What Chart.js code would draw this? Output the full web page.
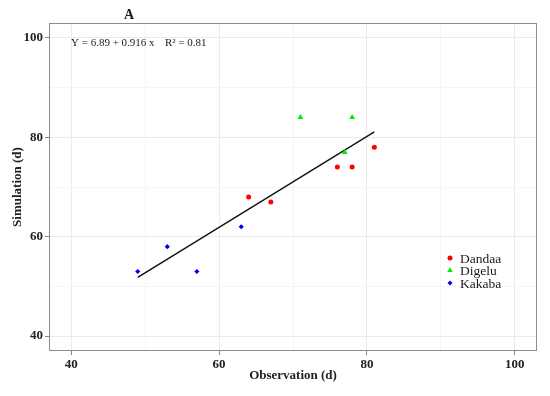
<!DOCTYPE html>
<html lang="en">
<head>
  <meta charset="UTF-8">
  <title>Observation vs Simulation</title>
  <script src="https://cdn.jsdelivr.net/npm/chart.js"></script>
  <style>
    html, body { margin: 0; padding: 0; background: #fff; }
  </style>
</head>
<body>
<canvas id="simChart" width="550" height="396"></canvas>

<script>
    // observed vs simulated days, per site
    const dandaaObs = [64, 67, 76, 78, 81];
    const dandaaSim = [68, 67, 74, 74, 78];
    const digeluObs = [71, 78, 77];
    const digeluSim = [84, 84, 77];
    const kakabaObs = [49, 53, 57, 63];
    const kakabaSim = [53, 58, 53, 62];

    // fitted line end points
    const fitObs = [49, 81];
    const fitSim = [51.8, 81.1];

    const majorTicks = [40, 60, 80, 100];
    const siteNames = ['Dandaa', 'Digelu', 'Kakaba'];
    const siteColors = ['#ff0000', '#00ee00', '#0000ff'];
    const siteShapes = ['circle', 'triangle', 'rectRot'];
    const equationText = 'Y = 6.89 + 0.916 x';
    const r2Text = 'R\u00b2 = 0.81';
    const panelLabel = 'A';

    const toPoints = (xs, ys) => xs.map((x, i) => ({ x: x, y: ys[i] }));

    const serif = '"Liberation Serif", "DejaVu Serif", serif';
    const gridColor = ctx => majorTicks.includes(ctx.tick.value) ? '#ebebeb' : '#f5f5f5';
    const tickMarkColor = ctx => majorTicks.includes(ctx.tick.value) ? '#888' : 'rgba(0,0,0,0)';

    function drawShape(ctx, shape, x, y, r) {
        ctx.beginPath();
        if (shape === 'circle') {
            ctx.arc(x, y, r, 0, Math.PI * 2);
        } else if (shape === 'triangle') {
            ctx.moveTo(x, y - r);
            ctx.lineTo(x + r * 0.87, y + r * 0.5);
            ctx.lineTo(x - r * 0.87, y + r * 0.5);
            ctx.closePath();
        } else {
            ctx.moveTo(x, y - r);
            ctx.lineTo(x + r, y);
            ctx.lineTo(x, y + r);
            ctx.lineTo(x - r, y);
            ctx.closePath();
        }
        ctx.fill();
    }

    const decorations = {
        id: 'decorations',
        beforeDatasetsDraw(chart) {
            const { ctx, chartArea } = chart;
            ctx.save();
            ctx.strokeStyle = '#8c8c8c';
            ctx.lineWidth = 1;
            ctx.strokeRect(chartArea.left + 0.5, chartArea.top + 0.5,
                chartArea.right - chartArea.left - 1, chartArea.bottom - chartArea.top - 1);
            ctx.restore();
        },
        afterDraw(chart) {
            const { ctx } = chart;
            ctx.save();
            ctx.fillStyle = '#1a1a1a';
            ctx.textBaseline = 'middle';

            ctx.font = 'bold 14px ' + serif;
            ctx.textAlign = 'center';
            ctx.fillText(panelLabel, 129, 15);

            ctx.font = '11px ' + serif;
            ctx.textAlign = 'left';
            ctx.fillText(equationText, 71, 43);
            ctx.fillText(r2Text, 165, 43);

            // legend
            ctx.font = '13.5px ' + serif;
            siteNames.forEach((name, i) => {
                const y = 258 + i * 12.5;
                ctx.fillStyle = siteColors[i];
                drawShape(ctx, siteShapes[i], 450, y, i === 1 ? 3.2 : 2.5);
                ctx.fillStyle = '#1a1a1a';
                ctx.fillText(name, 460, y + 1);
            });
            ctx.restore();
        }
    };

    const siteSets = [
        toPoints(dandaaObs, dandaaSim),
        toPoints(digeluObs, digeluSim),
        toPoints(kakabaObs, kakabaSim)
    ];

    const datasets = siteSets.map((pts, i) => ({
        label: siteNames[i],
        data: pts,
        backgroundColor: siteColors[i],
        borderColor: siteColors[i],
        borderWidth: 0,
        pointStyle: siteShapes[i],
        pointRadius: i === 1 ? 3.4 : (i === 2 ? 2.6 : 2.5),
        order: 0
    }));

    datasets.push({
        label: 'fit',
        data: toPoints(fitObs, fitSim),
        showLine: true,
        borderColor: '#111',
        borderWidth: 1.4,
        pointRadius: 0,
        order: 1
    });

    new Chart(document.getElementById('simChart'), {
        type: 'scatter',
        data: { datasets },
        options: {
            responsive: false,
            animation: false,
            layout: { padding: { top: 23, right: 13, left: 0, bottom: 0 } },
            plugins: {
                legend: { display: false },
                title: { display: false },
                tooltip: { enabled: false }
            },
            scales: {
                x: {
                    min: 37,
                    max: 103,
                    afterFit: s => { s.height = 45; },
                    border: { display: false },
                    grid: { color: gridColor, tickColor: tickMarkColor, tickLength: 4 },
                    ticks: {
                        stepSize: 10,
                        includeBounds: false,
                        maxRotation: 0,
                        autoSkip: false,
                        padding: 2,
                        color: '#222',
                        font: { family: serif, size: 13, weight: 'bold' },
                        callback: v => majorTicks.includes(v) ? String(v) : ''
                    },
                    title: {
                        display: true,
                        text: 'Observation (d)',
                        color: '#222',
                        padding: 13,
                        font: { family: serif, size: 13, weight: 'bold' }
                    }
                },
                y: {
                    min: 37,
                    max: 103,
                    afterFit: s => { s.width = 49; },
                    border: { display: false },
                    grid: { color: gridColor, tickColor: tickMarkColor, tickLength: 4 },
                    ticks: {
                        stepSize: 10,
                        includeBounds: false,
                        autoSkip: false,
                        padding: 2,
                        color: '#222',
                        font: { family: serif, size: 13, weight: 'bold' },
                        callback: v => majorTicks.includes(v) ? String(v) : ''
                    },
                    title: {
                        display: true,
                        text: 'Simulation (d)',
                        color: '#222',
                        padding: 10,
                        font: { family: serif, size: 13, weight: 'bold' }
                    }
                }
            }
        },
        plugins: [decorations]
    });
</script>
</body>
</html>
